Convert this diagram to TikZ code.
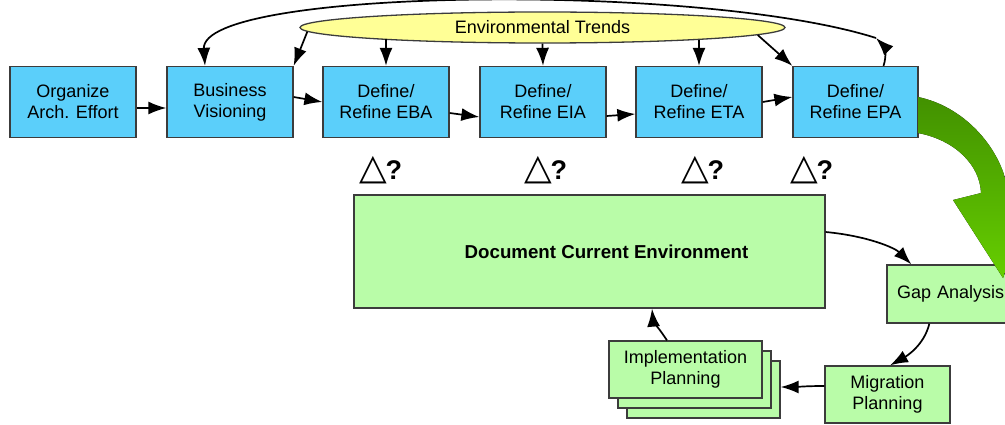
\documentclass[tikz,border=0pt]{standalone}
\usepackage{fontspec}
\setmainfont{Liberation Sans}
\newfontfamily\symfont{DejaVu Sans}
\usetikzlibrary{arrows.meta,calc,shapes.geometric}
\definecolor{boxblue}{RGB}{91,207,250}
\definecolor{boxgreen}{RGB}{185,252,168}
\definecolor{trendyellow}{RGB}{255,255,150}
\definecolor{bordergray}{RGB}{60,60,60}
\definecolor{arrowdark}{RGB}{66,145,0}
\definecolor{arrowlight}{RGB}{102,206,0}
\tikzset{
  txt/.style={font=\fontsize{18}{21}\selectfont},
  bbox/.style={txt, draw=bordergray, line width=1.3pt, fill=boxblue, minimum width=126pt, minimum height=71pt, inner sep=0pt, align=center},
  gbox/.style={txt, draw=bordergray, line width=1.3pt, fill=boxgreen, inner sep=0pt, align=center},
  conn/.style={-{Latex[length=18pt,width=13pt]}, line width=1.7pt, black},
  delta/.style={inner sep=0pt},
  bigarrow/.style={top color=arrowdark, bottom color=arrowlight, draw=none}
}
\begin{document}
\begin{tikzpicture}[x=1pt,y=-1pt]
\useasboundingbox (0,0) rectangle (1005,425);
\clip (0,0) rectangle (1005,425);

% top row
\node[bbox] (org) at (73,102) {Organize\\Arch. Effort};
\node[bbox] (bv)  at (230,102) {Business\\Visioning};
\node[bbox] (eba) at (386,102) {Define/\\Refine EBA};
\node[bbox] (eia) at (543,102) {Define/\\Refine EIA};
\node[bbox] (eta) at (699,102) {Define/\\Refine ETA};
\node[bbox, minimum width=125pt] (epa) at (855.5,102) {Define/\\Refine EPA};

\node[txt, ellipse, draw=bordergray, line width=1.3pt, fill=trendyellow, minimum width=485pt, minimum height=31pt, inner sep=0pt] (env) at (542.5,27.5) {Environmental Trends};

% horizontal connectors
\draw[conn] ($(org.east)+(0,6)$) -- ($(bv.west)+(0,6)$);
\draw[conn] ($(bv.east)+(0,-5)$) -- (eba.west);
\draw[conn] ($(eba.east)+(0,11)$) -- ($(eia.west)+(0,15)$);
\draw[conn] ($(eia.east)+(0,14)$) -- ($(eta.west)+(0,12)$);
\draw[conn] (eta.east) -- ($(epa.west)+(0,-5)$);

% trend arrows
\draw[conn] (env.181.5) -- (bv.north east);
\draw[conn] (eba.north |- env.184.3) -- (eba.north);
\draw[conn] (env.south) -- (eia.north);
\draw[conn] (eta.north |- env.355.7) -- (eta.north);
\draw[conn] (env.358.4) -- (epa.north west);

% big feedback arc
\coordinate (loopc) at (876,38);
\draw[conn] ($(epa.north)+(28,0)$) .. controls (887,56) and (884,46) .. (loopc);
\draw[conn] (loopc) .. controls (700,-18) and (200,-12) .. ($(bv.north)+(-25,0)$);

% delta labels
\foreach \n/\x in {d1/381,d2/546,d3/703,d4/812}{
  \node[delta] (\n) at (\x,170) {{\symfont\fontsize{36}{36}\selectfont △}\kern-2pt{\fontsize{27}{27}\selectfont\bfseries ?}};
}

% lower part
\node[gbox, minimum width=471pt, minimum height=113pt] (dce) at (589.5,251.5) {\hspace*{34pt}{\fontsize{18.7}{21}\selectfont\bfseries Document Current Environment}};
\node[gbox, minimum width=128pt, minimum height=58pt, text width=108pt, inner xsep=10pt, align=left] (gap) at (951,294) {Gap Analysis};
\node[gbox, minimum width=125pt, minimum height=57pt] (mig) at (887.5,394.5) {Migration\\Planning};
\node[gbox, minimum width=153pt, minimum height=57pt] (imp3) at (703.5,389.5) {};
\node[gbox, minimum width=153pt, minimum height=57pt] (imp2) at (694.5,379.5) {};
\node[gbox, minimum width=153pt, minimum height=57pt] (imp) at (685.5,369.5) {Implementation\\Planning};

\draw[conn] ($(dce.east)+(0,-19.5)$) .. controls (868,236) and (895,248) .. ($(gap.north west)+(25,0)$);
\draw[conn] ($(gap.south west)+(43,0)$) .. controls (924,346) and (905,357) .. ($(mig.north)+(2.5,0)$);
\draw[conn] ($(mig.west)+(0,-8.5)$) .. controls (806,386) and (795,387) .. ($(imp3.east)+(0,-2.5)$);
\draw[conn] ($(imp.north)+(-18.5,0)$) .. controls (660,330) and (653,320) .. ($(dce.south)+(62.5,0)$);

% big green arrow
\fill[bigarrow] (918,97) .. controls (962,106) and (1000,145) .. (1008,190)
  -- (1035,195) -- (1003,278) -- (953,200) -- (981,193)
  .. controls (980,165) and (955,140) .. (918,133) -- cycle;
\end{tikzpicture}
\end{document}
